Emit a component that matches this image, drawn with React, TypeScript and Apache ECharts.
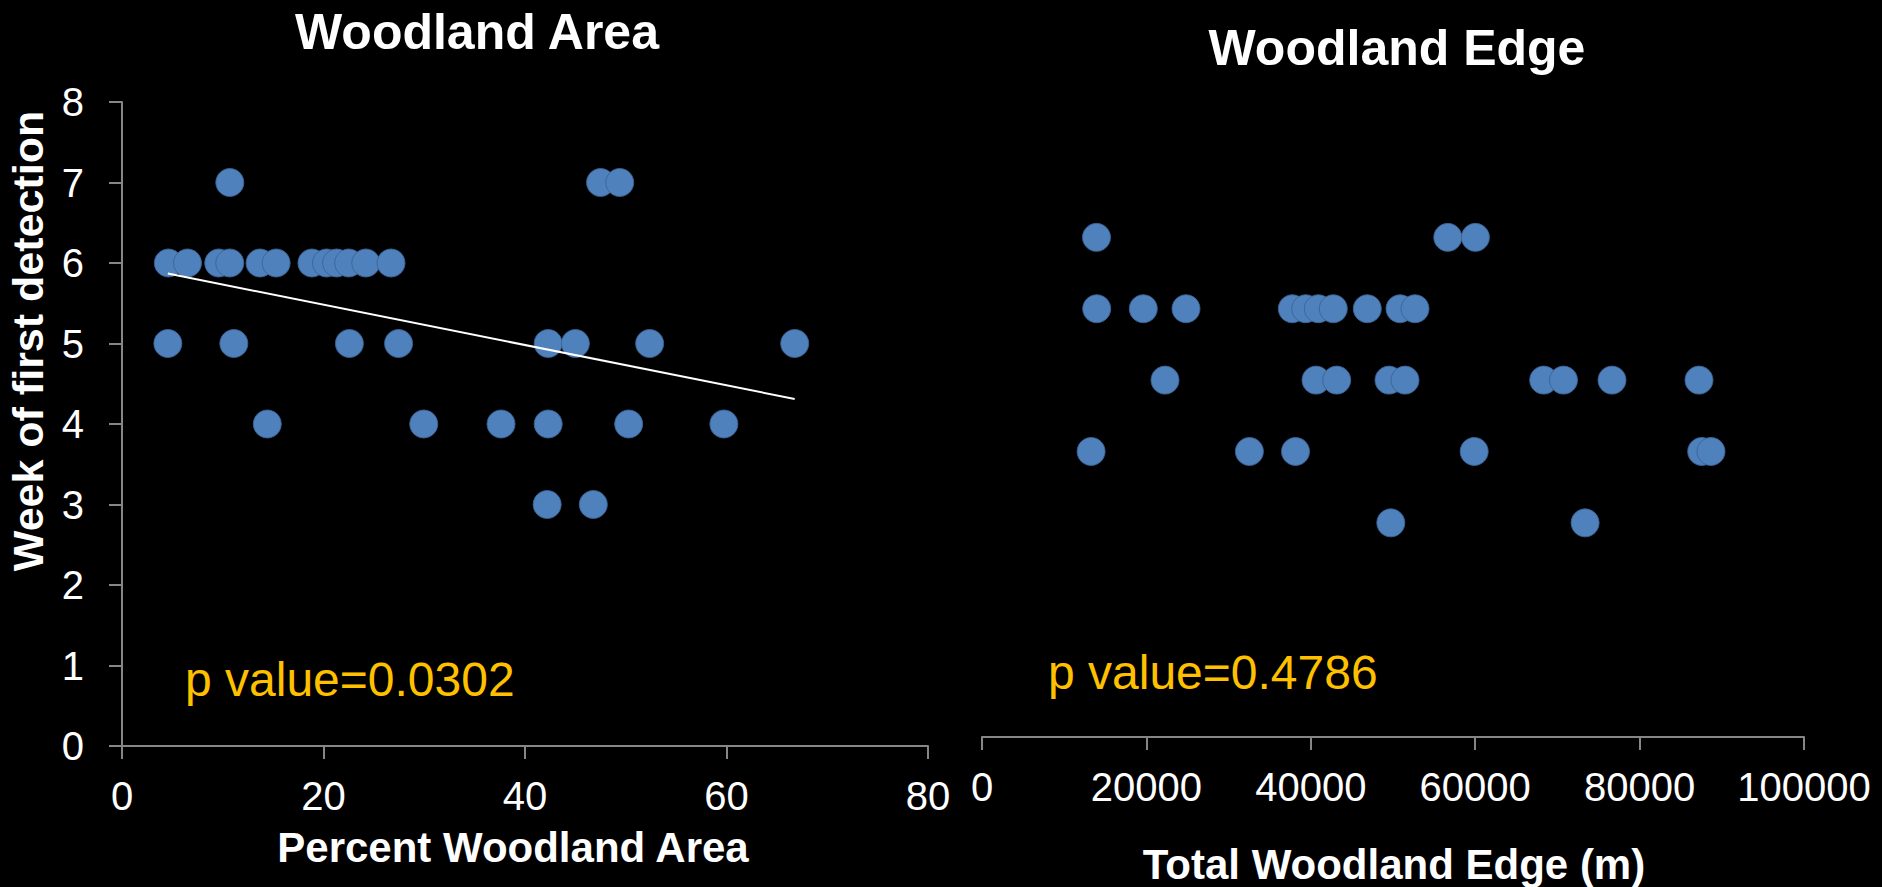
import React, { useEffect, useRef } from "react";
import * as echarts from "echarts";

// Woodland Area panel
const areaPercent = [
  4.6, 6.5, 9.6, 10.7, 13.7, 15.3, 18.85, 20.3, 21.3, 22.5, 24.2, 26.7,
  10.7, 47.5, 49.4,
  4.55, 11.1, 22.57, 27.45, 42.3, 45.0, 52.37, 66.77,
  14.42, 29.95, 37.62, 42.3, 50.29, 59.74,
  42.2, 46.78,
];
const areaWeek = [
  6, 6, 6, 6, 6, 6, 6, 6, 6, 6, 6, 6,
  7, 7, 7,
  5, 5, 5, 5, 5, 5, 5, 5,
  4, 4, 4, 4, 4, 4,
  3, 3,
];

// Woodland Edge panel
const edgeMeters = [
  13929, 56667, 60024,
  13954, 19623, 24818, 37749, 39380, 40912, 42737, 46873, 50852, 52676,
  22263, 40633, 43151, 49513, 51460, 68333, 70742, 76642, 87226,
  13273, 32530, 38139, 59878, 87555, 88686,
  49732, 73370,
];
const edgeWeek = [
  7, 7, 7,
  6, 6, 6, 6, 6, 6, 6, 6, 6, 6,
  5, 5, 5, 5, 5, 5, 5, 5, 5,
  4, 4, 4, 4, 4, 4,
  3, 3,
];

const titles = ["Woodland Area", "Woodland Edge"];
const axisNames = ["Percent Woodland Area", "Total Woodland Edge (m)"];
const yAxisName = "Week of first detection";
const pValues = ["p value=0.0302", "p value=0.4786"];

function regression(xs: number[], ys: number[]) {
  const n = xs.length;
  const mx = xs.reduce((a, b) => a + b, 0) / n;
  const my = ys.reduce((a, b) => a + b, 0) / n;
  let sxy = 0;
  let sxx = 0;
  for (let i = 0; i < n; i++) {
    sxy += (xs[i] - mx) * (ys[i] - my);
    sxx += (xs[i] - mx) * (xs[i] - mx);
  }
  const slope = sxy / sxx;
  const intercept = my - slope * mx;
  const x0 = Math.min(...xs);
  const x1 = Math.max(...xs);
  return [
    [x0, intercept + slope * x0],
    [x1, intercept + slope * x1],
  ];
}

export default function App() {
  const ref = useRef<HTMLDivElement>(null);
  useEffect(() => {
    document.body.style.margin = "0";
    document.body.style.background = "#000";
    if (!ref.current) return;
    const chart = echarts.init(ref.current, null, { renderer: "svg" });
    const axisColor = "#868686";
    const font = "Liberation Sans, Arial, sans-serif";
    const blue = "#4F81BD";
    const markerStyle = {
      color: blue,
      borderColor: "rgba(60,100,150,0.9)",
      borderWidth: 1,
      opacity: 1,
    };
    const xAxisCommon = {
      type: "value",
      axisLine: { show: true, onZero: false, lineStyle: { color: axisColor, width: 2 } },
      axisTick: { show: true, inside: false, length: 13, lineStyle: { color: axisColor, width: 2 } },
      splitLine: { show: false },
      axisLabel: {
        color: "#fff",
        fontSize: 40,
        fontFamily: font,
        margin: 30,
        formatter: (v: number) => String(v),
      },
    };
    const trend = regression(areaPercent, areaWeek);
    chart.setOption({
      animation: false,
      backgroundColor: "#000",
      grid: [
        { left: 122, top: 102, width: 806, height: 644 },
        { left: 982, top: 166, width: 822, height: 571 },
      ],
      xAxis: [
        { ...xAxisCommon, gridIndex: 0, min: 0, max: 80, interval: 20 },
        { ...xAxisCommon, gridIndex: 1, min: 0, max: 100000, interval: 20000 },
      ],
      yAxis: [
        {
          type: "value",
          gridIndex: 0,
          min: 0,
          max: 8,
          interval: 1,
          axisLine: { show: true, onZero: false, lineStyle: { color: axisColor, width: 2 } },
          axisTick: { show: true, inside: false, length: 13, lineStyle: { color: axisColor, width: 2 } },
          splitLine: { show: false },
          axisLabel: { color: "#fff", fontSize: 40, fontFamily: font, margin: 38 },
        },
        {
          type: "value",
          gridIndex: 1,
          min: 0,
          max: 8,
          interval: 1,
          show: false,
          splitLine: { show: false },
        },
      ],
      series: [
        {
          type: "scatter",
          xAxisIndex: 0,
          yAxisIndex: 0,
          symbolSize: 28,
          itemStyle: markerStyle,
          data: areaPercent.map((x, i) => [x, areaWeek[i]]),
          z: 2,
        },
        {
          type: "line",
          xAxisIndex: 0,
          yAxisIndex: 0,
          showSymbol: false,
          symbol: "none",
          lineStyle: { color: "#fff", width: 2 },
          data: trend,
          z: 5,
        },
        {
          type: "scatter",
          xAxisIndex: 1,
          yAxisIndex: 1,
          symbolSize: 28,
          itemStyle: markerStyle,
          data: edgeMeters.map((x, i) => [x, edgeWeek[i]]),
          z: 2,
        },
      ],
      graphic: [
        {
          type: "text",
          x: 477,
          y: 32,
          style: { text: titles[0], fill: "#fff", font: `bold 50px ${font}`, align: "center", verticalAlign: "middle" },
        },
        {
          type: "text",
          x: 1397,
          y: 48,
          style: { text: titles[1], fill: "#fff", font: `bold 50px ${font}`, align: "center", verticalAlign: "middle" },
        },
        {
          type: "text",
          x: 513,
          y: 847,
          style: { text: axisNames[0], fill: "#fff", font: `bold 42px ${font}`, align: "center", verticalAlign: "middle" },
        },
        {
          type: "text",
          x: 1394,
          y: 864,
          style: { text: axisNames[1], fill: "#fff", font: `bold 42px ${font}`, align: "center", verticalAlign: "middle" },
        },
        {
          type: "text",
          x: 28,
          y: 341,
          rotation: Math.PI / 2,
          style: { text: yAxisName, fill: "#fff", font: `bold 43px ${font}`, align: "center", verticalAlign: "middle" },
        },
        {
          type: "text",
          x: 185,
          y: 679,
          style: { text: pValues[0], fill: "#FFC000", font: `48px ${font}`, align: "left", verticalAlign: "middle" },
        },
        {
          type: "text",
          x: 1048,
          y: 672,
          style: { text: pValues[1], fill: "#FFC000", font: `48px ${font}`, align: "left", verticalAlign: "middle" },
        },
      ],
    });
    return () => chart.dispose();
  }, []);
  return <div ref={ref} style={{ width: 1882, height: 887 }} />;
}
